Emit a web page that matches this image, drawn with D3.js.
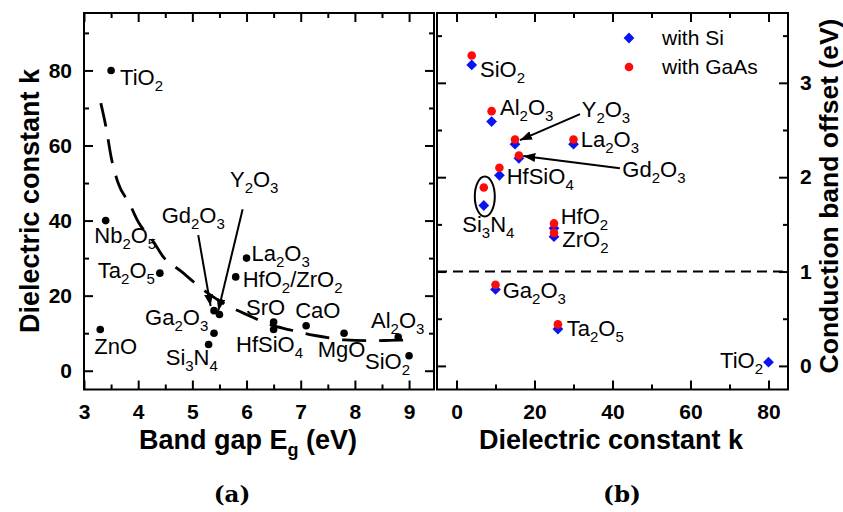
<!DOCTYPE html>
<html>
<head>
<meta charset="utf-8">
<script src="https://cdn.jsdelivr.net/npm/d3@7"></script>
<style>
  body { margin: 0; background: #fff; }
</style>
</head>
<body>
<svg id="chart" width="843" height="512"></svg>
<script>
// ---- Panel (a): dielectric constant versus band gap ----
const materialsA = ["TiO2", "Nb2O5", "Ta2O5", "ZnO", "Gd2O3", "Y2O3", "Ga2O3", "Si3N4",
                    "La2O3", "HfO2/ZrO2", "SrO", "HfSiO4", "CaO", "MgO", "Al2O3", "SiO2"];
const bandGap = [3.5, 3.4, 4.4, 3.3, 5.4, 5.5, 5.4, 5.3, 6.0, 5.8, 6.5, 6.5, 7.1, 7.8, 8.8, 9.0];
const dielectricK = [80, 40, 26, 11, 16, 15, 10, 7, 30, 25, 13, 11, 12, 10, 9, 4];

// dashed trend line through the cloud
const trendGap = [3.31, 3.41, 3.5, 3.63, 3.84, 4.0, 4.28, 4.46, 4.8, 5.02, 5.33, 5.63, 6.09,
                  6.37, 6.8, 7.11, 7.6, 7.8, 8.35, 8.65, 8.95];
const trendK = [71.3, 64.6, 57, 50, 44.5, 39.7, 34.4, 30.4, 26.4, 23.7, 20.2, 17.5, 14.4,
                12.6, 10.9, 9.8, 8.6, 8.2, 8.0, 8.1, 8.2];

const xTicksA = [3, 4, 5, 6, 7, 8, 9];
const xMinorA = [3.5, 4.5, 5.5, 6.5, 7.5, 8.5];
const yTicksA = [0, 20, 40, 60, 80];
const yMinorA = [10, 30, 50, 70, 90];

// ---- Panel (b): conduction band offset versus dielectric constant ----
const materialsB = ["SiO2", "Al2O3", "Y2O3", "Gd2O3", "La2O3", "HfSiO4", "Si3N4",
                    "HfO2", "ZrO2", "Ga2O3", "Ta2O5", "TiO2"];
const kB = [3.9, 9, 15, 16, 30, 11, 7, 25, 25, 10, 26, 80];
const cboSi = [3.19, 2.59, 2.35, 2.2, 2.35, 2.02, 1.70, 1.46, 1.37, 0.81, 0.39, 0.04];
const cboGaAs = [3.29, 2.70, 2.40, 2.23, 2.40, 2.10, 1.89, 1.51, 1.41, 0.86, 0.44, null];
const cboThreshold = 1;

const xTicksB = [0, 20, 40, 60, 80];
const xMinorB = [10, 30, 50, 70];
const yTicksB = [0, 1, 2, 3];
const yMinorB = [0.5, 1.5, 2.5, 3.5];

const legendNames = ["with Si", "with GaAs"];

// ---- label placement (pixel offsets from each marker) ----
const labelLayoutA = {
  "TiO2": [9, 14.5, "start"], "Nb2O5": [-11.4, 22.7, "start"], "Ta2O5": [-5, 5.2, "end"],
  "ZnO": [-6, 24.6, "start"], "Gd2O3": [-52.4, -87.3, "start"], "Y2O3": [10.5, -127.7, "start"],
  "Ga2O3": [-5.8, -8.2, "end"], "Si3N4": [-42.9, 20.5, "start"], "La2O3": [5, 2.5, "start"],
  "HfO2/ZrO2": [7, 10.3, "start"], "SrO": [-27.6, -6.9, "start"], "HfSiO4": [-37.6, 22.3, "start"],
  "CaO": [-11, -7.4, "start"], "MgO": [-26.3, 23.5, "start"], "Al2O3": [-27.2, -8.6, "start"],
  "SiO2": [-44, 13.6, "start"]
};
const arrowLayoutA = {
  "Gd2O3": [[-15.8, -75.6], [-3.4, -4.6]],
  "Y2O3": [[23.2, -105.1], [-1.2, -3.7]]
};
const labelLayoutB = {
  "SiO2": [8.3, 12.1, "start"], "Al2O3": [8.4, -6.5, "start"], "Y2O3": [66.7, -27.1, "start"],
  "Gd2O3": [103.4, 18.4, "start"], "La2O3": [7.2, 2.6, "start"], "HfSiO4": [7.3, 9, "start"],
  "Si3N4": [-21.5, 26.2, "start"], "HfO2": [6.7, -4.3, "start"], "ZrO2": [8.3, 10.6, "start"],
  "Ga2O3": [7.2, 8.8, "start"], "Ta2O5": [8.8, 6.6, "start"], "TiO2": [-5.5, 6.2, "end"]
};
const arrowLayoutB = {
  "Y2O3": [[65, -30], [5, -4]],
  "Gd2O3": [[101, 10], [4.4, -2.3]]
};

const FONT = "'Liberation Sans', Arial, Helvetica, sans-serif";
const svg = d3.select("#chart");

const xA = d3.scaleLinear().domain([3, 9.46]).range([84, 434]);
const yA = d3.scaleLinear().domain([-5, 95.3]).range([389.5, 13]);
const xB = d3.scaleLinear().domain([-5, 85]).range([437, 788]);
const yB = d3.scaleLinear().domain([-0.25, 3.74]).range([389.5, 13]);

// arrowhead marker
svg.append("defs").append("marker")
  .attr("id", "head").attr("markerUnits", "userSpaceOnUse")
  .attr("viewBox", "0 0 12 9").attr("markerWidth", 12).attr("markerHeight", 9)
  .attr("refX", 12).attr("refY", 4.5).attr("orient", "auto")
  .append("path").attr("d", "M0,0 L12,4.5 L0,9 Z").attr("fill", "#000");

// chemical formula with subscripted digits
function formula(text, str, big, small, shift) {
  const parts = str.match(/\d+|\D+/g);
  let down = false;
  parts.forEach(p => {
    const t = text.append("tspan").text(p);
    if (/^\d+$/.test(p)) {
      t.attr("font-size", small).attr("dy", down ? 0 : shift);
      down = true;
    } else {
      t.attr("font-size", big).attr("dy", down ? -shift : 0);
      down = false;
    }
  });
}

function axis(orient, scale, pos, major, minor, labels, pad) {
  const make = { bottom: d3.axisBottom, top: d3.axisTop, left: d3.axisLeft, right: d3.axisRight }[orient];
  const tr = (orient === "bottom" || orient === "top") ? `translate(0,${pos})` : `translate(${pos},0)`;
  const gMinor = svg.append("g").attr("transform", tr)
    .call(make(scale).tickValues(minor).tickSize(-5).tickFormat(""));
  const gMajor = svg.append("g").attr("transform", tr)
    .call(make(scale).tickValues(major).tickSize(-9).tickPadding(pad)
      .tickFormat(labels ? d3.format("d") : ""));
  [gMinor, gMajor].forEach(g => {
    g.select(".domain").remove();
    g.selectAll("line").attr("stroke", "#000").attr("stroke-width", 2);
    g.attr("font-family", FONT).attr("font-size", 21).attr("font-weight", "bold");
    g.selectAll("text").attr("fill", "#000");
  });
}

// ---------- panel (a) ----------
axis("bottom", xA, 389.5, xTicksA, xMinorA, true, 15);
axis("top", xA, 13, xTicksA, xMinorA, false, 0);
axis("left", yA, 84, yTicksA, yMinorA, true, 12);
axis("right", yA, 434, yTicksA, yMinorA, false, 0);

const trend = d3.range(trendGap.length).map(i => [trendGap[i], trendK[i]]);
svg.append("path")
  .attr("d", d3.line().x(d => xA(d[0])).y(d => yA(d[1])).curve(d3.curveMonotoneX)(trend))
  .attr("fill", "none").attr("stroke", "#000").attr("stroke-width", 2.8)
  .attr("stroke-dasharray", "24,13");

const ptsA = materialsA.map((m, i) => ({ name: m, x: xA(bandGap[i]), y: yA(dielectricK[i]) }));
svg.append("g").selectAll("circle").data(ptsA).join("circle")
  .attr("cx", d => d.x).attr("cy", d => d.y).attr("r", 3.8).attr("fill", "#000");

ptsA.forEach(p => {
  const [dx, dy, anchor] = labelLayoutA[p.name];
  const t = svg.append("text").attr("x", p.x + dx).attr("y", p.y + dy)
    .attr("font-family", FONT).attr("text-anchor", anchor).attr("fill", "#000");
  formula(t, p.name, 22, 15, 6);
  const a = arrowLayoutA[p.name];
  if (a) {
    svg.append("line")
      .attr("x1", p.x + a[0][0]).attr("y1", p.y + a[0][1])
      .attr("x2", p.x + a[1][0]).attr("y2", p.y + a[1][1])
      .attr("stroke", "#000").attr("stroke-width", 2).attr("marker-end", "url(#head)");
  }
});

svg.append("rect").attr("x", 84).attr("y", 13).attr("width", 350).attr("height", 376.5)
  .attr("fill", "none").attr("stroke", "#000").attr("stroke-width", 2);

// ---------- panel (b) ----------
axis("bottom", xB, 389.5, xTicksB, xMinorB, true, 15);
axis("top", xB, 13, xTicksB, xMinorB, false, 0);
axis("left", yB, 437, yTicksB, yMinorB, false, 0);
axis("right", yB, 788, yTicksB, yMinorB, true, 12);

svg.append("line")
  .attr("x1", xB.range()[0]).attr("x2", xB.range()[1])
  .attr("y1", yB(cboThreshold)).attr("y2", yB(cboThreshold))
  .attr("stroke", "#000").attr("stroke-width", 2).attr("stroke-dasharray", "10,6");

const BLUE = "#0a14f0", RED = "#ff0a0a";
const diamond = d3.symbol(d3.symbolSquare, 58);

const ptsB = materialsB.map((m, i) => ({
  name: m, x: xB(kB[i]), ySi: yB(cboSi[i]),
  yGa: cboGaAs[i] == null ? null : yB(cboGaAs[i])
}));

svg.append("g").selectAll("path").data(ptsB).join("path")
  .attr("d", diamond)
  .attr("transform", d => `translate(${d.x},${d.ySi}) rotate(45)`)
  .attr("fill", BLUE);
svg.append("g").selectAll("circle").data(ptsB.filter(d => d.yGa != null)).join("circle")
  .attr("cx", d => d.x).attr("cy", d => d.yGa).attr("r", 4.3).attr("fill", RED);

// ring around the Si3N4 pair
const sn = ptsB.find(d => d.name === "Si3N4");
svg.append("ellipse")
  .attr("cx", sn.x + 1).attr("cy", (sn.ySi + sn.yGa) / 2)
  .attr("rx", 10).attr("ry", 20)
  .attr("fill", "none").attr("stroke", "#000").attr("stroke-width", 2);

ptsB.forEach(p => {
  const [dx, dy, anchor] = labelLayoutB[p.name];
  const t = svg.append("text").attr("x", p.x + dx).attr("y", p.ySi + dy)
    .attr("font-family", FONT).attr("text-anchor", anchor).attr("fill", "#000");
  formula(t, p.name, 22, 15, 6);
  const a = arrowLayoutB[p.name];
  if (a) {
    svg.append("line")
      .attr("x1", p.x + a[0][0]).attr("y1", p.ySi + a[0][1])
      .attr("x2", p.x + a[1][0]).attr("y2", p.ySi + a[1][1])
      .attr("stroke", "#000").attr("stroke-width", 2).attr("marker-end", "url(#head)");
  }
});

// legend
const lg = svg.append("g").attr("transform", "translate(629,38)");
lg.append("path").attr("d", diamond).attr("transform", "rotate(45)").attr("fill", BLUE);
lg.append("circle").attr("cx", 0).attr("cy", 29).attr("r", 4.3).attr("fill", RED);
legendNames.forEach((n, i) => {
  lg.append("text").attr("x", 33).attr("y", i * 29).attr("dy", "0.35em")
    .attr("font-family", FONT).attr("font-size", 21).attr("fill", "#000").text(n);
});

svg.append("rect").attr("x", 437).attr("y", 13).attr("width", 351).attr("height", 376.5)
  .attr("fill", "none").attr("stroke", "#000").attr("stroke-width", 2);

// ---------- axis titles ----------
const titleA = svg.append("text").attr("x", 248).attr("y", 449).attr("text-anchor", "middle")
  .attr("font-family", FONT).attr("font-weight", "bold").attr("font-size", 27);
titleA.append("tspan").text("Band gap E");
titleA.append("tspan").text("g").attr("font-size", 18).attr("dy", 7);
titleA.append("tspan").text(" (eV)").attr("dy", -7);

svg.append("text").attr("x", 611).attr("y", 449).attr("text-anchor", "middle")
  .attr("font-family", FONT).attr("font-weight", "bold").attr("font-size", 27)
  .text("Dielectric constant k");

svg.append("text").attr("transform", "translate(39,201) rotate(-90)").attr("text-anchor", "middle")
  .attr("font-family", FONT).attr("font-weight", "bold").attr("font-size", 27)
  .text("Dielectric constant k");

svg.append("text").attr("transform", "translate(838,196) rotate(-90)").attr("text-anchor", "middle")
  .attr("font-family", FONT).attr("font-weight", "bold").attr("font-size", 26.5)
  .text("Conduction band offset (eV)");

const SERIF = "'DejaVu Serif', 'Liberation Serif', serif";
svg.append("text").attr("x", 232).attr("y", 502).attr("text-anchor", "middle")
  .attr("font-family", SERIF).attr("font-weight", "bold").attr("font-size", 23).text("(a)");
svg.append("text").attr("x", 622).attr("y", 502).attr("text-anchor", "middle")
  .attr("font-family", SERIF).attr("font-weight", "bold").attr("font-size", 23).text("(b)");
</script>
</body>
</html>
